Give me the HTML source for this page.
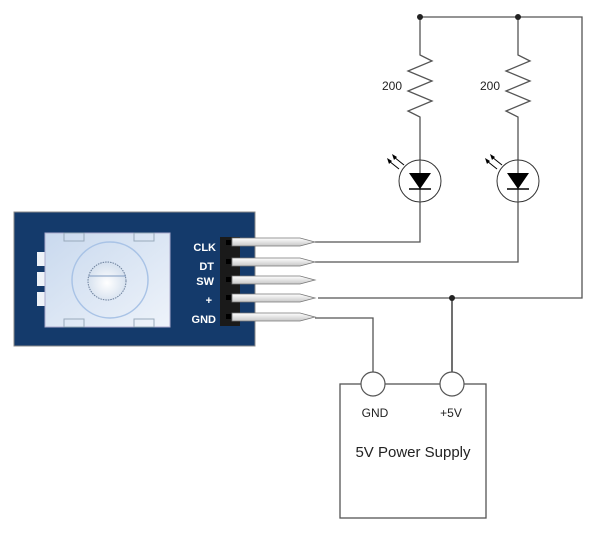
<!DOCTYPE html>
<html><head><style>
body{margin:0;background:#fff;width:600px;height:538px;overflow:hidden}
</style></head><body>
<svg width="600" height="538" viewBox="0 0 600 538" xmlns="http://www.w3.org/2000/svg" font-family="'Liberation Sans',sans-serif">
<defs>
<linearGradient id="kb" x1="0" y1="0" x2="1" y2="1"><stop offset="0" stop-color="#c9d9ee"/><stop offset="1" stop-color="#eef3fa"/></linearGradient>
<radialGradient id="kn" cx="0.5" cy="0.55" r="0.6"><stop offset="0" stop-color="#ffffff"/><stop offset="1" stop-color="#cfdcec"/></radialGradient>
<linearGradient id="pin" x1="0" y1="0" x2="0" y2="1"><stop offset="0" stop-color="#fff"/><stop offset="1" stop-color="#c8c8c8"/></linearGradient>
</defs>
<g stroke="#555" stroke-width="1.3" fill="none">
<!-- top wire -->
<polyline points="420,17 582,17 582,298 318,298"/>
<!-- left branch -->
<polyline points="420,17 420,55 432,61 408,71 432,81 408,91 432,101 408,111 420,117 420,242 315,242"/>
<polyline points="518,17 518,55 530,61 506,71 530,81 506,91 530,101 506,111 518,117 518,262 315,262"/>
<line x1="452" y1="298" x2="452" y2="372" stroke="#222"/>
<polyline points="315,318 373,318 373,372"/>
<rect x="340" y="384" width="146" height="134" fill="#fff"/>
</g>
<g fill="#222"><circle cx="420" cy="17" r="3"/><circle cx="518" cy="17" r="3"/><circle cx="452" cy="298" r="3"/></g>
<g fill="#fff" stroke="#555" stroke-width="1.2"><circle cx="373" cy="384" r="12"/><circle cx="452" cy="384" r="12"/></g>
<!-- LEDs -->
<g id="led">
<circle cx="420" cy="181" r="21" fill="#fff" stroke="#333" stroke-width="1"/>
<line x1="420" y1="160" x2="420" y2="202" stroke="#555" stroke-width="1.3"/>
<polygon points="409,173 431,173 420,189" fill="#000"/>
<line x1="409" y1="189" x2="431" y2="189" stroke="#000" stroke-width="1.5"/>
<g stroke="#000" stroke-width="1"><line x1="404" y1="165" x2="394" y2="157"/><line x1="399" y1="169" x2="389" y2="161"/></g>
<polygon points="392,154 397,157 394,160" fill="#000"/><polygon points="387,158 392,161 389,164" fill="#000"/>
</g>
<use href="#led" x="98"/>
<g font-size="12" fill="#222"><text x="382" y="90">200</text><text x="480" y="90">200</text>
<text x="375" y="417" text-anchor="middle">GND</text><text x="451" y="417" text-anchor="middle">+5V</text></g>
<text x="413" y="457" text-anchor="middle" font-size="15" fill="#222">5V Power Supply</text>
<!-- board -->
<rect x="14" y="212" width="241" height="134" fill="#143a6b" stroke="#888"/>
<rect x="37" y="252" width="8" height="14" fill="#eef2f8"/><rect x="37" y="272" width="8" height="14" fill="#eef2f8"/><rect x="37" y="292" width="8" height="14" fill="#eef2f8"/>
<rect x="45" y="233" width="125" height="94" fill="url(#kb)" stroke="#aac"/>
<rect x="64" y="233" width="20" height="8" fill="none" stroke="#9ab"/><rect x="134" y="233" width="20" height="8" fill="none" stroke="#9ab"/>
<rect x="64" y="319" width="20" height="8" fill="none" stroke="#9ab"/><rect x="134" y="319" width="20" height="8" fill="none" stroke="#9ab"/>
<circle cx="110" cy="280" r="38" fill="none" stroke="#a9c3e6" stroke-width="1.5"/>
<circle cx="107" cy="281" r="19" fill="url(#kn)" stroke="#6a7e9a" stroke-dasharray="1.5 1"/>
<line x1="89" y1="276" x2="126" y2="276" stroke="#7f9ac0"/>
<rect x="220" y="237" width="20" height="89" fill="#1a1a1a"/>
<g fill="#000"><rect x="226" y="240" width="5" height="5"/><rect x="226" y="259" width="5" height="5"/><rect x="226" y="277" width="5" height="5"/><rect x="226" y="295" width="5" height="5"/><rect x="226" y="314" width="5" height="5"/></g>
<g fill="url(#pin)" stroke="#777" stroke-width="0.8">
<path d="M232,238 H300 L315,242 L300,246 H232Z"/>
<path d="M232,258 H300 L315,262 L300,266 H232Z"/>
<path d="M232,276 H300 L315,280 L300,284 H232Z"/>
<path d="M232,294 H300 L315,298 L300,302 H232Z"/>
<path d="M232,313 H300 L315,317 L300,321 H232Z"/>
</g>
<g fill="#fff" font-size="11" font-weight="bold" text-anchor="end">
<text x="216" y="251">CLK</text><text x="214" y="270">DT</text><text x="214" y="285">SW</text><text x="212" y="304">+</text><text x="216" y="323">GND</text></g>
</svg>
</body></html>
